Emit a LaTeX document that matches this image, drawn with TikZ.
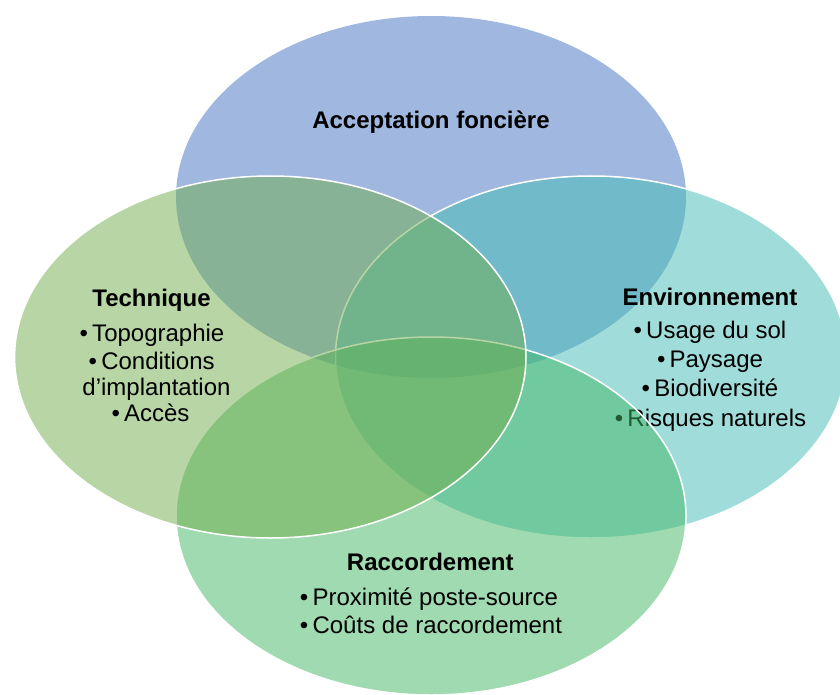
\documentclass[tikz,border=0pt]{standalone}
\usepackage{fontspec}
\setmainfont{Liberation Sans}
\definecolor{ctop}{RGB}{67,115,193}
\definecolor{cleft}{RGB}{113,173,77}
\definecolor{cright}{RGB}{67,189,183}
\definecolor{cbot}{RGB}{67,183,101}
\newcommand{\bul}{•\hspace{4.2pt}}
\begin{document}
\begin{tikzpicture}[x=1pt,y=-1pt,
  venn/.style={fill opacity=0.5, draw=white, line width=1.5pt},
  ttl/.style={anchor=base, font=\fontsize{24}{28}\selectfont\bfseries, inner sep=0pt},
  itm/.style={anchor=base, font=\fontsize{24}{28}\selectfont, inner sep=0pt}]
\useasboundingbox (0,0) rectangle (840,695);
\clip (0,0) rectangle (840,695);
\fill[white] (0,0) rectangle (840,695);
% top
\fill[ctop, fill opacity=0.5] (431,197) ellipse [x radius=255pt, y radius=181pt];
\node[ttl] (acc) at (431,128.3) {Acceptation foncière};
% right
\path[venn, fill=cright] (591,357) ellipse [x radius=255.5pt, y radius=181pt];
\node[ttl] (env) at (710,305) {Environnement};
\node[itm] (env1) at (710,338.3) {\bul Usage du sol};
\node[itm] (env2) at (710,367.3) {\bul Paysage};
\node[itm] (env3) at (710,396.7) {\bul Biodiversité};
\node[itm] (env4) at (710.5,426.7) {\bul Risques naturels};
% bottom
\path[venn, fill=cbot] (431,516) ellipse [x radius=255pt, y radius=179pt];
\node[ttl] (rac) at (430.3,570) {Raccordement};
\node[itm] (rac1) at (429,605) {\bul Proximité poste-source};
\node[itm] (rac2) at (431,633.3) {\bul Coûts de raccordement};
% left
\path[venn, fill=cleft] (270.3,357) ellipse [x radius=255.7pt, y radius=181pt];
\node[ttl] (tec) at (151.5,306.7) {Technique};
\node[itm] (tec1) at (152,341.5) {\bul Topographie};
\node[itm] (tec2) at (151.7,369) {\bul Conditions};
\node[itm] (tec3) at (156.5,395.5) {d’implantation};
\node[itm] (tec4) at (150.5,421.5) {\bul Accès};
\end{tikzpicture}
\end{document}
